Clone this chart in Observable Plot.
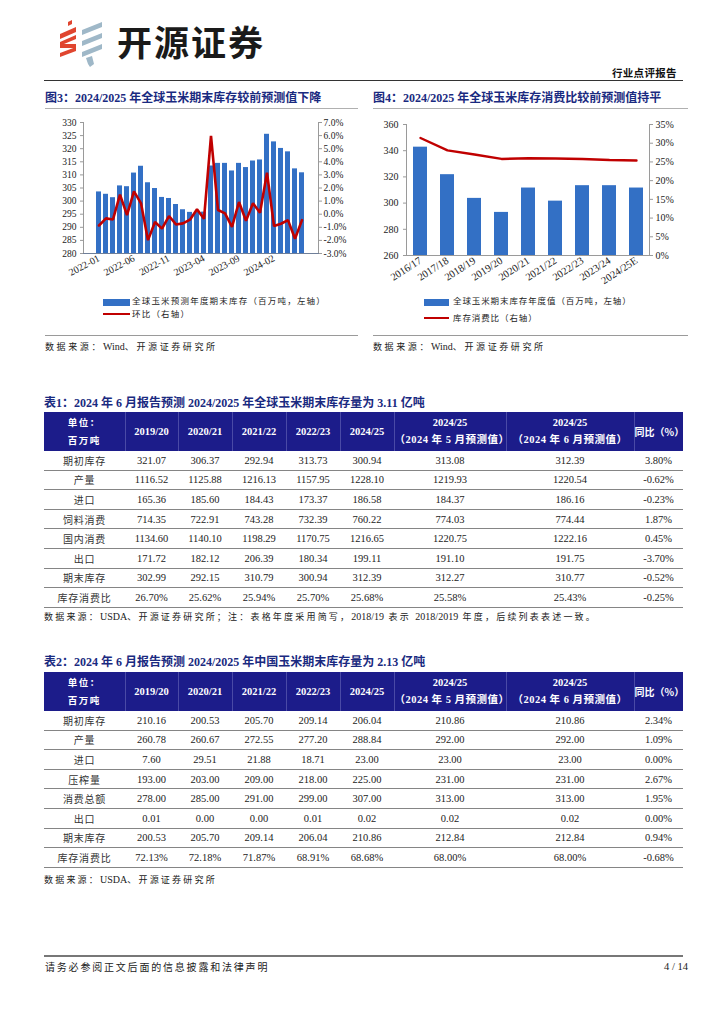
<!DOCTYPE html>
<html><head><meta charset="utf-8">
<script src="https://cdn.jsdelivr.net/npm/d3@7"></script>
<script src="https://cdn.jsdelivr.net/npm/@observablehq/plot@0.6"></script>
<style>
body{margin:0;background:#fff;}
#page{position:relative;width:724px;height:1024px;overflow:hidden;font-family:"Liberation Serif","Noto Sans CJK SC",serif;color:#222;background:#fff;}
.abs{position:absolute;white-space:nowrap;}
.ftitle{font-weight:bold;color:#1a2a80;font-size:12px;line-height:14px;font-family:"Liberation Serif","Noto Sans CJK SC",serif;}
.src{font-size:9px;line-height:12px;letter-spacing:2.6px;color:#222;}
.src .l{letter-spacing:0;font-size:10px;}
.leg{font-size:8.5px;line-height:12px;color:#222;}
table.t{position:absolute;left:44px;border-collapse:collapse;table-layout:fixed;width:639px;font-family:"Liberation Serif","Noto Sans CJK SC",serif;}
table.t th{background:#1c1c8a;color:#fff;font-weight:bold;font-size:10.5px;line-height:17px;padding:0;text-align:center;border-left:1px solid #4a4aa6;}
table.t th:first-child{border-left:none;}
table.t tr.r{height:19.6px;}
table.t td{font-size:10.5px;padding:0;text-align:center;border-bottom:1.6px solid #858585;color:#222;}
table.t td.lab{font-size:10px;letter-spacing:0.8px;color:#333;}
</style></head>
<body><div id="page"></div>
<script>
// ---------------- data ----------------
const months3 = ["2022-01","2022-02","2022-03","2022-04","2022-05","2022-06","2022-07","2022-08","2022-09","2022-10","2022-11","2022-12",
  "2023-01","2023-02","2023-03","2023-04","2023-05","2023-06","2023-07","2023-08","2023-09","2023-10","2023-11","2023-12",
  "2024-01","2024-02","2024-03","2024-04","2024-05","2024-06"];
const stock3 = [303.5,302.6,301.3,305.8,305.5,310.7,313.3,307.0,304.8,301.4,301.0,298.7,296.7,295.7,295.7,295.8,313.4,314.4,314.4,311.5,314.4,312.8,315.3,315.7,325.5,322.6,320.1,318.8,312.3,310.8];
const mom3 = [-0.86,-0.32,-0.40,1.50,-0.07,1.74,0.83,-1.98,-0.60,-1.10,-0.14,-0.78,-0.70,-0.42,0.37,-0.35,5.98,0.32,0.06,-0.96,0.93,-0.50,0.83,0.11,3.17,-0.90,-0.73,-0.45,-1.88,-0.45];
const xTicks3 = ["2022-01","2022-06","2022-11","2023-04","2023-09","2024-02"];
const leftTicks3 = [280,285,290,295,300,305,310,315,320,325,330];
const rightTicks3 = [-3,-2,-1,0,1,2,3,4,5,6,7];

const years4 = ["2016/17","2017/18","2018/19","2019/20","2020/21","2021/22","2022/23","2023/24","2024/25E"];
const stock4 = [342.7,321.7,303.6,292.9,311.5,301.5,313.3,313.3,311.5];
const ratio4 = [31.4,28.1,27.0,25.8,26.0,25.9,25.8,25.5,25.4];
const leftTicks4 = [260,280,300,320,340,360];
const rightTicks4 = [0,5,10,15,20,25,30,35];

const tableCols = ["2019/20","2020/21","2021/22","2022/23","2024/25"];
const t1Labels = ["期初库存","产量","进口","饲料消费","国内消费","出口","期末库存","库存消费比"];
const t1Values = [
 ["321.07","306.37","292.94","313.73","300.94","313.08","312.39","3.80%"],
 ["1116.52","1125.88","1216.13","1157.95","1228.10","1219.93","1220.54","-0.62%"],
 ["165.36","185.60","184.43","173.37","186.58","184.37","186.16","-0.23%"],
 ["714.35","722.91","743.28","732.39","760.22","774.03","774.44","1.87%"],
 ["1134.60","1140.10","1198.29","1170.75","1216.65","1220.75","1222.16","0.45%"],
 ["171.72","182.12","206.39","180.34","199.11","191.10","191.75","-3.70%"],
 ["302.99","292.15","310.79","300.94","312.39","312.27","310.77","-0.52%"],
 ["26.70%","25.62%","25.94%","25.70%","25.68%","25.58%","25.43%","-0.25%"]];
const t2Labels = ["期初库存","产量","进口","压榨量","消费总额","出口","期末库存","库存消费比"];
const t2Values = [
 ["210.16","200.53","205.70","209.14","206.04","210.86","210.86","2.34%"],
 ["260.78","260.67","272.55","277.20","288.84","292.00","292.00","1.09%"],
 ["7.60","29.51","21.88","18.71","23.00","23.00","23.00","0.00%"],
 ["193.00","203.00","209.00","218.00","225.00","231.00","231.00","2.67%"],
 ["278.00","285.00","291.00","299.00","307.00","313.00","313.00","1.95%"],
 ["0.01","0.00","0.00","0.01","0.02","0.02","0.02","0.00%"],
 ["200.53","205.70","209.14","206.04","210.86","212.84","212.84","0.94%"],
 ["72.13%","72.18%","71.87%","68.91%","68.68%","68.00%","68.00%","-0.68%"]];

// ---------------- helpers ----------------
const page = document.getElementById("page");
function place(html, x, y, cls, extra) {
  const d = document.createElement("div");
  d.className = "abs " + (cls || "");
  d.style.left = x + "px"; d.style.top = y + "px";
  if (extra) Object.assign(d.style, extra);
  d.innerHTML = html;
  page.appendChild(d);
  return d;
}
function hline(x, y, w, h, color) {
  place("", x, y, "", {width: w + "px", height: h + "px", background: color});
}
const BLUE = "#3370c5", RED = "#c00000";

// ---------------- header ----------------
place(`<svg width="50" height="48" viewBox="0 0 50 48">
  <g fill="#e0452f">
   <polygon points="12,2 16,0 16,4 12,6"/>
   <polygon points="4,14 20,7 20,12 4,19"/>
   <polygon points="4,22 20,15 20,19 8,24 20,24 20,28 4,28"/>
   <polygon points="4,33 20,27 20,31 4,37"/>
  </g>
  <g fill="#9fb8c8">
   <polygon points="26,10 46,2 46,7 26,15"/>
   <polygon points="26,21 46,13 46,18 26,26"/>
   <polygon points="26,32 46,24 46,29 26,37"/>
   <polygon points="30,38 36,36 38,44 34,47 32,44"/>
  </g></svg>`, 56, 20);
place("开源证券", 117, 20, "", {fontFamily:"'Noto Sans CJK SC'", fontWeight:"bold", fontSize:"35px", lineHeight:"42px", color:"#1a1a1a", letterSpacing:"2px"});
place("行业点评报告", 612, 66, "", {fontFamily:"'Noto Sans CJK SC'", fontWeight:"bold", fontSize:"10.5px", lineHeight:"14px", letterSpacing:"0.3px", color:"#111"});
hline(44, 79.5, 639, 1.6, "#333");

// ---------------- figure titles ----------------
place("图3：2024/2025 年全球玉米期末库存较前预测值下降", 45, 91, "ftitle");
place("图4：2024/2025 年全球玉米库存消费比较前预测值持平", 373, 91, "ftitle");
hline(45, 107.5, 313, 1, "#b0b0b0");
hline(373, 107.5, 315, 1, "#b0b0b0");

// ---------------- chart 3 ----------------
const Y3 = [280, 330], R3 = [-3, 7];
const toLeft3 = p => Y3[0] + (p - R3[0]) * (Y3[1] - Y3[0]) / (R3[1] - R3[0]);
const fromLeft3 = v => R3[0] + (v - Y3[0]) * (R3[1] - R3[0]) / (Y3[1] - Y3[0]);
const data3 = months3.map((m, i) => ({m, v: stock3[i], p: mom3[i]}));
const chart3 = Plot.plot({
  width: 313, height: 175, marginTop: 10, marginBottom: 34, marginLeft: 38, marginRight: 40,
  style: {fontFamily: "'Liberation Serif', serif", fontSize: "9.5px", color: "#222", background: "transparent", overflow: "visible"},
  x: {domain: months3, paddingInner: 0.27, paddingOuter: 0.145},
  y: {domain: Y3},
  marks: [
    Plot.barY(data3, {x: "m", y1: () => Y3[0], y2: "v", fill: BLUE}),
    Plot.frame({anchor: "left", stroke: "#9a9a9a"}),
    Plot.frame({anchor: "right", stroke: "#9a9a9a"}),
    Plot.frame({anchor: "bottom", stroke: "#6f7f99", strokeWidth: 1.2}),
    Plot.lineY(data3, {x: "m", y: d => toLeft3(d.p), stroke: RED, strokeWidth: 2.6, strokeLinejoin: "miter"}),
    Plot.axisY(leftTicks3, {anchor: "left", tickSize: 3, tickPadding: 4, label: null, stroke: "#9a9a9a"}),
    Plot.axisY(rightTicks3.map(toLeft3), {anchor: "right", tickSize: 3, tickPadding: 2, label: null, stroke: "#9a9a9a",
      tickFormat: v => Math.round(fromLeft3(v)).toFixed(1) + "%"}),
    Plot.axisX(xTicks3, {tickRotate: -28, tickSize: 0, tickPadding: 4, label: null, fontSize: "10px"})
  ]
});
place("", 45, 112).appendChild(chart3);

place(`<span style="display:inline-block;width:27px;height:7px;background:${BLUE};vertical-align:middle"></span>`, 103, 295, "", {lineHeight:"12px"});
place("全球玉米预测年度期末库存（百万吨，左轴）", 132, 295, "leg", {letterSpacing:"1.2px"});
hline(103, 312.5, 27, 2.6, RED);
place("环比（右轴）", 132, 308, "leg", {letterSpacing:"1.2px"});
hline(45, 335, 313, 1, "#9a9a9a");
place(`数据来源：<span class="l">Wind</span>、开源证券研究所`, 45, 341, "src");

// ---------------- chart 4 ----------------
const Y4 = [260, 360], R4 = [0, 35];
const toLeft4 = p => Y4[0] + (p - R4[0]) * (Y4[1] - Y4[0]) / (R4[1] - R4[0]);
const fromLeft4 = v => R4[0] + (v - Y4[0]) * (R4[1] - R4[0]) / (Y4[1] - Y4[0]);
const data4 = years4.map((y, i) => ({y, v: stock4[i], p: ratio4[i]}));
const chart4 = Plot.plot({
  width: 315, height: 180, marginTop: 12, marginBottom: 37, marginLeft: 33, marginRight: 39,
  style: {fontFamily: "'Liberation Serif', serif", fontSize: "10px", color: "#222", background: "transparent", overflow: "visible"},
  x: {domain: years4, paddingInner: 0.5, paddingOuter: 0.24},
  y: {domain: Y4},
  marks: [
    Plot.barY(data4, {x: "y", y1: () => Y4[0], y2: "v", fill: BLUE}),
    Plot.frame({anchor: "left", stroke: "#9a9a9a"}),
    Plot.frame({anchor: "right", stroke: "#9a9a9a"}),
    Plot.frame({anchor: "bottom", stroke: "#9a9a9a"}),
    Plot.lineY(data4, {x: "y", y: d => toLeft4(d.p), stroke: RED, strokeWidth: 2.4}),
    Plot.axisY(leftTicks4, {anchor: "left", tickSize: 3, tickPadding: 5, label: null, stroke: "#9a9a9a"}),
    Plot.axisY(rightTicks4.map(toLeft4), {anchor: "right", tickSize: 3, tickPadding: 3, label: null, stroke: "#9a9a9a",
      tickFormat: v => Math.round(fromLeft4(v)) + "%"}),
    Plot.axisX(years4, {tickRotate: -33, tickSize: 0, tickPadding: 4, label: null, fontSize: "10.5px"})
  ]
});
place("", 373, 112).appendChild(chart4);

place(`<span style="display:inline-block;width:25px;height:7px;background:${BLUE};vertical-align:middle"></span>`, 424, 295, "", {lineHeight:"12px"});
place("全球玉米期末库存年度值（百万吨，左轴）", 453, 295, "leg", {letterSpacing:"0.9px"});
hline(424, 316.8, 25, 2.6, RED);
place("库存消费比（右轴）", 453, 312, "leg", {letterSpacing:"0.9px"});
hline(373, 335, 315, 1, "#9a9a9a");
place(`数据来源：<span class="l">Wind</span>、开源证券研究所`, 373, 341, "src");

// ---------------- tables ----------------
const colW = [81, 53, 54, 54, 54, 54, 112, 128, 49];
function buildTable(top, labels, values) {
  const t = document.createElement("table");
  t.className = "t";
  t.style.top = top + "px";
  let h = "<colgroup>" + colW.map(w => `<col style="width:${w}px">`).join("") + "</colgroup>";
  h += `<tr style="height:38.5px"><th><span style="font-family:'Noto Sans CJK SC';font-size:9.5px;letter-spacing:1.5px;line-height:18px">单位：<br>百万吨</span></th>`;
  h += tableCols.map(c => `<th>${c}</th>`).join("");
  h += `<th>2024/25<br><span style="font-family:'Liberation Serif','Noto Sans CJK SC';letter-spacing:0.5px">（2024 年 5 月预测值）</span></th>`;
  h += `<th>2024/25<br><span style="font-family:'Liberation Serif','Noto Sans CJK SC';letter-spacing:0.5px">（2024 年 6 月预测值）</span></th>`;
  h += `<th style="font-family:'Noto Sans CJK SC';font-size:10px">同比（%）</th></tr>`;
  labels.forEach((lab, i) => {
    h += `<tr class="r"><td class="lab" style="font-family:'Noto Sans CJK SC'">${lab}</td>` + values[i].map(v => `<td>${v}</td>`).join("") + "</tr>";
  });
  t.innerHTML = h;
  page.appendChild(t);
}
place("表1：2024 年 6 月报告预测 2024/2025 年全球玉米期末库存量为 3.11 亿吨", 44, 396, "ftitle");
buildTable(412, t1Labels, t1Values);
place(`数据来源：<span class="l">USDA</span>、开源证券研究所；注：表格年度采用简写，<span class="l">2018/19</span> 表示 <span class="l">2018/2019</span> 年度，后续列表表述一致。`, 44, 611, "src", {letterSpacing:"2.2px"});

place("表2：2024 年 6 月报告预测 2024/2025 年中国玉米期末库存量为 2.13 亿吨", 44, 655, "ftitle");
buildTable(672, t2Labels, t2Values);
place(`数据来源：<span class="l">USDA</span>、开源证券研究所`, 44, 874, "src", {letterSpacing:"2.2px"});

// ---------------- footer ----------------
hline(44, 955, 639, 2, "#777");
place("请务必参阅正文后面的信息披露和法律声明", 45, 960, "", {fontFamily:"'Noto Sans CJK SC'", fontSize:"10px", lineHeight:"13px", letterSpacing:"1.8px"});
place("4 / 14", 664, 960, "", {fontSize:"10.5px", lineHeight:"13px"});
</script>
</body></html>
